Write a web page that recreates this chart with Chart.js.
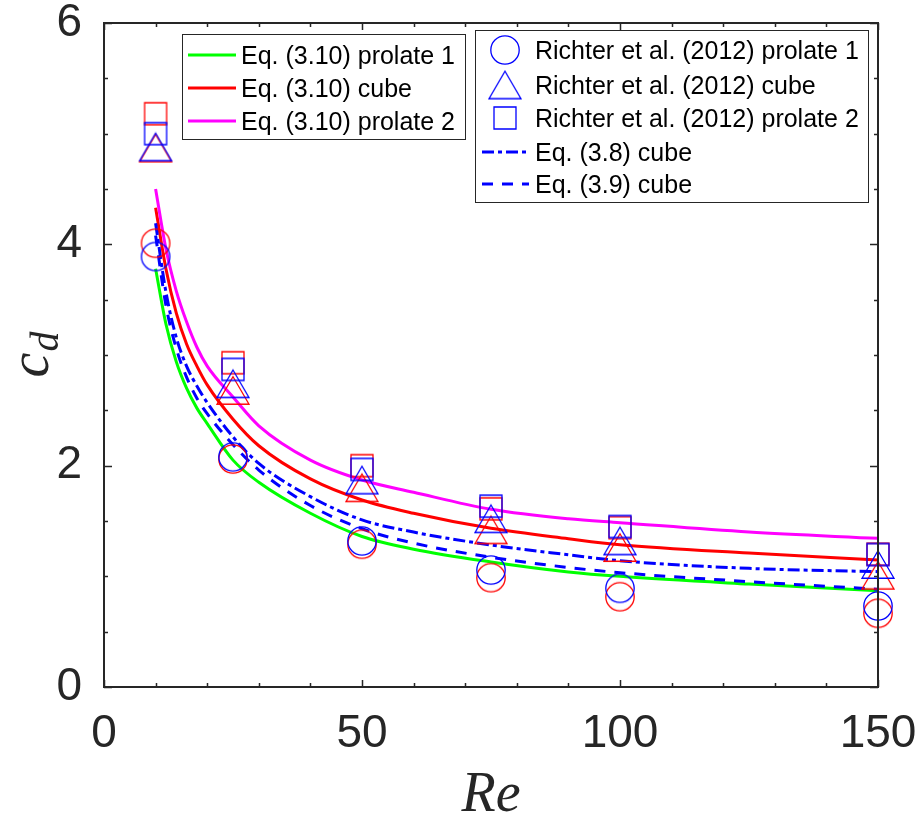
<!DOCTYPE html>
<html>
<head>
<meta charset="utf-8">
<script src="https://cdn.jsdelivr.net/npm/chart.js@4.4.1/dist/chart.umd.min.js"></script>
<style>
  html, body { margin: 0; padding: 0; background: #ffffff; }
  #wrap { width: 923px; height: 818px; position: relative; }
  canvas { display: block; }
</style>
</head>
<body>
<div id="wrap"><canvas id="cd" width="923" height="818"></canvas></div>
<script>
// Reynolds numbers of the resolved simulations
const reData = [10, 25, 50, 75, 100, 150];

// Richter et al. (2012) drag coefficients (blue) and companion values (red)
const prolate1Blue = [3.89, 2.08, 1.32, 1.057, 0.892, 0.732];
const prolate1Red  = [4.01, 2.06, 1.29, 0.988, 0.816, 0.666];
const cubeBlue     = [4.88, 2.74, 1.87, 1.52, 1.32, 1.107];
const cubeRed      = [4.87, 2.68, 1.80, 1.42, 1.26, 1.01];
const prolate2Blue = [5.00, 2.87, 1.966, 1.634, 1.45, 1.197];
const prolate2Red  = [5.18, 2.93, 2.00, 1.61, 1.44, 1.20];

// Correlation curves sampled along Re
const reCurve       = [10, 12, 14, 16, 18, 20, 25, 30, 40, 50, 60, 75, 90, 100, 125, 150];
const eq310Prolate1 = [3.78, 3.28, 2.94, 2.70, 2.52, 2.38, 2.05, 1.85, 1.57, 1.36, 1.245, 1.13, 1.04, 1.00, 0.93, 0.87];
const eq310Cube     = [4.33, 3.78, 3.38, 3.10, 2.90, 2.73, 2.42, 2.18, 1.88, 1.69, 1.57, 1.434, 1.34, 1.285, 1.21, 1.148];
const eq310Prolate2 = [4.50, 3.96, 3.58, 3.30, 3.07, 2.90, 2.62, 2.36, 2.05, 1.87, 1.76, 1.606, 1.52, 1.485, 1.40, 1.343];
const eq38Cube      = [4.19, 3.57, 3.16, 2.90, 2.72, 2.57, 2.26, 2.02, 1.72, 1.51, 1.40, 1.283, 1.195, 1.141, 1.072, 1.042];
const eq39Cube      = [4.08, 3.45, 3.06, 2.80, 2.61, 2.47, 2.19, 1.96, 1.64, 1.43, 1.30, 1.172, 1.08, 1.033, 0.952, 0.883];

// Axis ticks
const xTickValues = [0, 50, 100, 150];
const yTickValues = [0, 2, 4, 6];

const AXIS_COLOR = '#262626';
const BLUE = '#0000ff', RED = '#ff0000', GREEN = '#00ff00', MAGENTA = '#ff00ff';

const pts = (xs, ys) => xs.map((x, i) => ({ x: x, y: ys[i] }));

// Open marker glyphs (centred on their bounding box)
function makeMarker(shape, color) {
  const c = document.createElement('canvas');
  let w, h;
  if (shape === 'circle') { w = 32; h = 32; }
  else if (shape === 'triangle') { w = 36; h = 31; }
  else { w = 26; h = 26; }
  c.width = w; c.height = h;
  const g = c.getContext('2d');
  g.strokeStyle = color;
  g.lineWidth = 1.3;
  g.beginPath();
  if (shape === 'circle') {
    g.arc(16, 16, 14.2, 0, Math.PI * 2);
  } else if (shape === 'triangle') {
    g.moveTo(18, 1.75);
    g.lineTo(34, 29.25);
    g.lineTo(2, 29.25);
    g.closePath();
  } else {
    g.rect(2, 2, 22, 22);
  }
  g.stroke();
  return c;
}

const mk = {
  circleBlue: makeMarker('circle', BLUE), circleRed: makeMarker('circle', RED),
  triBlue: makeMarker('triangle', BLUE), triRed: makeMarker('triangle', RED),
  sqBlue: makeMarker('square', BLUE), sqRed: makeMarker('square', RED)
};

function markerSet(label, ys, img) {
  return {
    label: label, data: pts(reData, ys), showLine: false,
    pointStyle: img, pointRadius: 14, pointHoverRadius: 14,
    borderColor: 'rgba(0,0,0,0)', backgroundColor: 'rgba(0,0,0,0)', clip: false
  };
}
function curveSet(label, ys, color, dash) {
  return {
    label: label, data: pts(reCurve, ys), borderColor: color, backgroundColor: color,
    borderWidth: 3, borderDash: dash || [], borderCapStyle: 'butt',
    pointRadius: 0, cubicInterpolationMode: 'monotone', fill: false
  };
}

const DASHDOT = [12, 4, 4, 4];
const DASHED = [11, 9];

// Axes box with inward major/minor ticks on all four sides
const framePlugin = {
  id: 'frame',
  afterDatasetsDraw(chart) {
    const { ctx, chartArea: { left, right, top, bottom }, scales: { x, y } } = chart;
    ctx.save();
    ctx.strokeStyle = AXIS_COLOR;
    ctx.lineWidth = 1.5;
    ctx.beginPath();
    for (let v = 0; v <= 150; v += 10) {
      const px = Math.round(x.getPixelForValue(v)) + 0.5;
      const len = v % 50 === 0 ? 7 : 4;
      ctx.moveTo(px, bottom); ctx.lineTo(px, bottom - len);
      ctx.moveTo(px, top); ctx.lineTo(px, top + len);
    }
    for (let v = 0; v <= 6; v += 0.5) {
      const py = Math.round(y.getPixelForValue(v)) + 0.5;
      const len = v % 2 === 0 ? 8 : 4;
      ctx.moveTo(left, py); ctx.lineTo(left + len, py);
      ctx.moveTo(right, py); ctx.lineTo(right - len, py);
    }
    ctx.stroke();
    ctx.lineWidth = 2;
    ctx.strokeRect(left, top, right - left, bottom - top);
    ctx.restore();
  }
};

// Axis titles: italic Re and c_d with subscript
const titlePlugin = {
  id: 'titles',
  afterDraw(chart) {
    const { ctx, chartArea: { left, right, top, bottom } } = chart;
    ctx.save();
    ctx.fillStyle = AXIS_COLOR;
    ctx.textBaseline = 'alphabetic';
    ctx.textAlign = 'center';
    ctx.font = 'italic 56px "Liberation Serif"';
    ctx.fillText('Re', (left + right) / 2, 811);

    const cy = (top + bottom) / 2;
    ctx.translate(48, cy);
    ctx.rotate(-Math.PI / 2);
    ctx.textAlign = 'left';
    ctx.font = 'italic 56px "Liberation Serif"';
    const wc = ctx.measureText('c').width;
    ctx.font = 'italic 40px "Liberation Serif"';
    const wd = ctx.measureText('d').width;
    const x0 = -(wc + wd) / 2;
    ctx.font = 'italic 56px "Liberation Serif"';
    ctx.fillText('c', x0, 0);
    ctx.font = 'italic 40px "Liberation Serif"';
    ctx.fillText('d', x0 + wc + 1, 10);
    ctx.restore();
  }
};

// Two legend boxes drawn over the axes
const legendPlugin = {
  id: 'twoLegends',
  afterDraw(chart) {
    const ctx = chart.ctx;
    ctx.save();
    const drawBox = (x0, y0, w, h) => {
      ctx.fillStyle = '#ffffff';
      ctx.fillRect(x0, y0, w, h);
      ctx.strokeStyle = AXIS_COLOR;
      ctx.lineWidth = 1;
      ctx.strokeRect(x0 + 0.5, y0 + 0.5, w, h);
    };
    const text = (s, x, yc) => {
      ctx.fillStyle = '#000000';
      ctx.font = '25px "Liberation Sans"';
      ctx.textAlign = 'left';
      ctx.textBaseline = 'alphabetic';
      ctx.fillText(s, x, yc + 9);
    };
    const sample = (x1, x2, yc, color, dash) => {
      ctx.strokeStyle = color;
      ctx.lineWidth = 3;
      ctx.lineCap = 'butt';
      ctx.setLineDash(dash || []);
      ctx.beginPath();
      ctx.moveTo(x1, yc); ctx.lineTo(x2, yc);
      ctx.stroke();
      ctx.setLineDash([]);
    };

    // left legend: Eq. (3.10) curves
    drawBox(182, 34, 283, 105);
    const leftRows = [
      ['Eq. (3.10) prolate 1', GREEN],
      ['Eq. (3.10) cube', RED],
      ['Eq. (3.10) prolate 2', MAGENTA]
    ];
    leftRows.forEach((r, i) => {
      const yc = 55 + i * 33;
      sample(188, 236, yc, r[1]);
      text(r[0], 241, yc);
    });

    // right legend: reference data and Eq. (3.8)/(3.9)
    drawBox(475, 30, 393, 172);
    const rowsY = [50, 85, 118, 152, 184];
    const imgs = [mk.circleBlue, mk.triBlue, mk.sqBlue];
    const labels = ['Richter et al. (2012) prolate 1', 'Richter et al. (2012) cube',
                    'Richter et al. (2012) prolate 2', 'Eq. (3.8) cube', 'Eq. (3.9) cube'];
    for (let i = 0; i < 3; i++) {
      const im = imgs[i];
      ctx.drawImage(im, 505 - im.width / 2, rowsY[i] - im.height / 2);
      text(labels[i], 535, rowsY[i]);
    }
    sample(482, 529, rowsY[3], BLUE, DASHDOT);
    text(labels[3], 535, rowsY[3]);
    sample(482, 529, rowsY[4], BLUE, DASHED);
    text(labels[4], 535, rowsY[4]);
    ctx.restore();
  }
};

const tickFont = { family: '"Liberation Sans", Arial, sans-serif', size: 46, lineHeight: 1 };

new Chart(document.getElementById('cd'), {
  type: 'line',
  data: {
    datasets: [
      markerSet('Richter et al. (2012) prolate 1', prolate1Blue, mk.circleBlue),
      markerSet('Richter et al. (2012) cube', cubeBlue, mk.triBlue),
      markerSet('Richter et al. (2012) prolate 2', prolate2Blue, mk.sqBlue),
      markerSet('prolate 1', prolate1Red, mk.circleRed),
      markerSet('cube', cubeRed, mk.triRed),
      markerSet('prolate 2', prolate2Red, mk.sqRed),
      curveSet('Eq. (3.8) cube', eq38Cube, BLUE, DASHDOT),
      curveSet('Eq. (3.9) cube', eq39Cube, BLUE, DASHED),
      curveSet('Eq. (3.10) prolate 2', eq310Prolate2, MAGENTA),
      curveSet('Eq. (3.10) cube', eq310Cube, RED),
      curveSet('Eq. (3.10) prolate 1', eq310Prolate1, GREEN)
    ]
  },
  options: {
    responsive: false,
    animation: false,
    devicePixelRatio: 1,
    layout: { padding: { top: 23, right: 45, left: 0, bottom: 0 } },
    plugins: { legend: { display: false }, tooltip: { enabled: false } },
    events: [],
    scales: {
      x: {
        type: 'linear', min: 0, max: 150,
        afterBuildTicks(s) { s.ticks = xTickValues.map(v => ({ value: v })); },
        afterFit(s) { s.height = 131; s.paddingLeft = 0; s.paddingRight = 0; },
        grid: { display: false, drawTicks: false },
        border: { display: false },
        ticks: { padding: 24, font: tickFont, color: AXIS_COLOR, maxRotation: 0, autoSkip: false }
      },
      y: {
        type: 'linear', min: 0, max: 6,
        afterBuildTicks(s) { s.ticks = yTickValues.map(v => ({ value: v })); },
        afterFit(s) { s.width = 104; s.paddingTop = 0; s.paddingBottom = 0; },
        grid: { display: false, drawTicks: false },
        border: { display: false },
        ticks: { padding: 22, font: tickFont, color: AXIS_COLOR, autoSkip: false }
      }
    }
  },
  plugins: [framePlugin, titlePlugin, legendPlugin]
});
</script>
</body>
</html>
